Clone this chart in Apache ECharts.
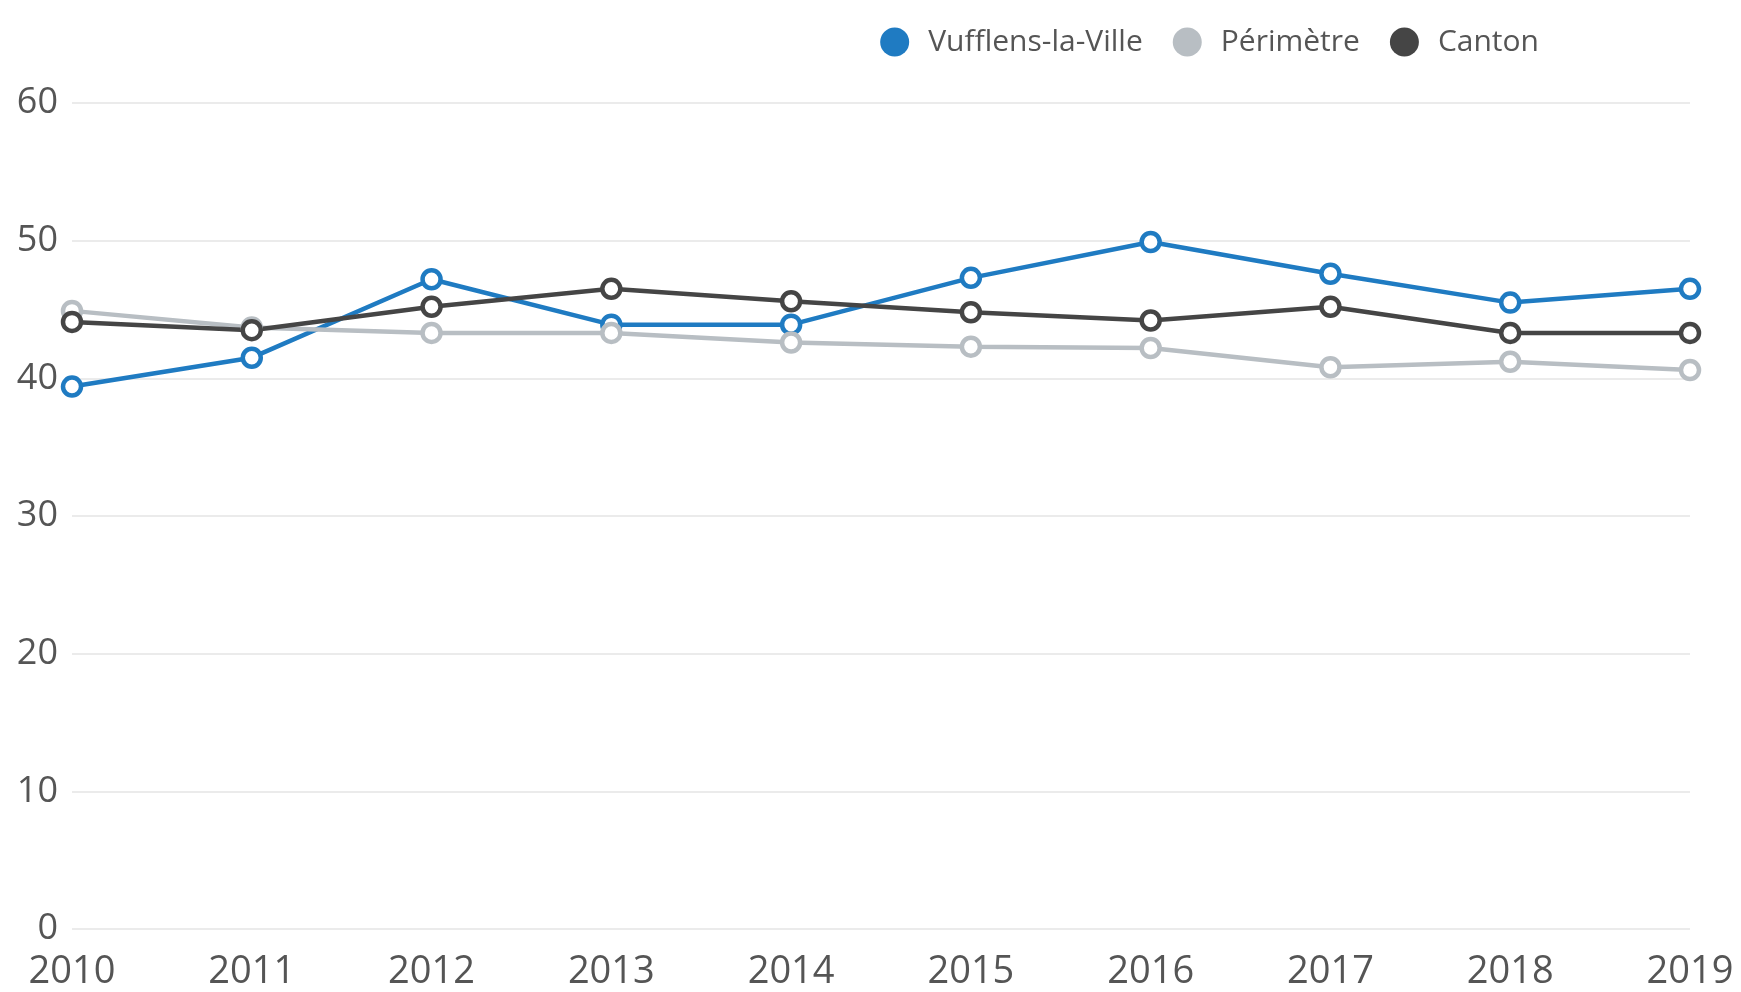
<!DOCTYPE html>
<html>
<head>
<meta charset="utf-8">
<title>Vufflens-la-Ville</title>
<script src="https://cdn.jsdelivr.net/npm/echarts@6/dist/echarts.min.js"></script>
<style>
    html, body { margin: 0; padding: 0; background: #fff; }
    #grafico { width: 1741px; height: 992px; }
</style>
</head>
<body>
<div id="grafico"></div>
<script>
var annees = ["2010", "2011", "2012", "2013", "2014", "2015", "2016", "2017", "2018", "2019"];
var vufflens = [39.4, 41.5, 47.2, 43.9, 43.9, 47.3, 49.9, 47.6, 45.5, 46.5];
var perimetre = [44.9, 43.7, 43.3, 43.3, 42.6, 42.3, 42.2, 40.8, 41.2, 40.6];
var canton = [44.1, 43.5, 45.2, 46.5, 45.6, 44.8, 44.2, 45.2, 43.3, 43.3];
var noms = ["Vufflens-la-Ville", "Périmètre", "Canton"];
var couleurs = ["#1f7bc2", "#b8bec3", "#454545"];

function serie(nom, valeurs, couleur){
    return {
        name: nom,
        type: "line",
        data: valeurs,
        symbol: "circle",
        symbolSize: 18,
        lineStyle: { width: 4.5, color: couleur },
        itemStyle: { color: "#fff", borderWidth: 4.5, borderColor: couleur },
        emphasis: { disabled: true }
    };
}

var dom = document.getElementById("grafico");
var myChart = echarts.init(dom);
var option = {
    animation: false,
    textStyle: { fontFamily: "Open Sans" },
    legend: {
        right: 197,
        top: 22,
        icon: "circle",
        itemWidth: 29,
        itemHeight: 29,
        itemGap: 30,
        textStyle: { fontSize: 30, color: "#555", fontFamily: "Open Sans", padding: [0, 0, 0, 14] },
        data: noms.map(function(n, i){
            return { name: n, itemStyle: { color: couleurs[i], borderWidth: 0 } };
        })
    },
    grid: {
        left: 72,
        right: 51,
        top: 103,
        bottom: 63,
        containLabel: false
    },
    xAxis: {
        type: "category",
        data: annees,
        boundaryGap: false,
        axisLine: { show: false },
        axisTick: { show: false },
        axisLabel: { fontSize: 38, color: "#555", margin: 24, fontFamily: "Open Sans" }
    },
    yAxis: {
        type: "value",
        min: 0,
        max: 60,
        interval: 10,
        axisLine: { show: false },
        axisTick: { show: false },
        axisLabel: { fontSize: 36, color: "#555", margin: 14, fontFamily: "Open Sans" },
        splitLine: { lineStyle: { color: "#ebebeb", width: 2 } }
    },
    series: [
        serie(noms[0], vufflens, couleurs[0]),
        serie(noms[1], perimetre, couleurs[1]),
        serie(noms[2], canton, couleurs[2])
    ]
};
myChart.setOption(option, true);
window.addEventListener("resize", function(){
    myChart.resize();
});
</script>
</body>
</html>
